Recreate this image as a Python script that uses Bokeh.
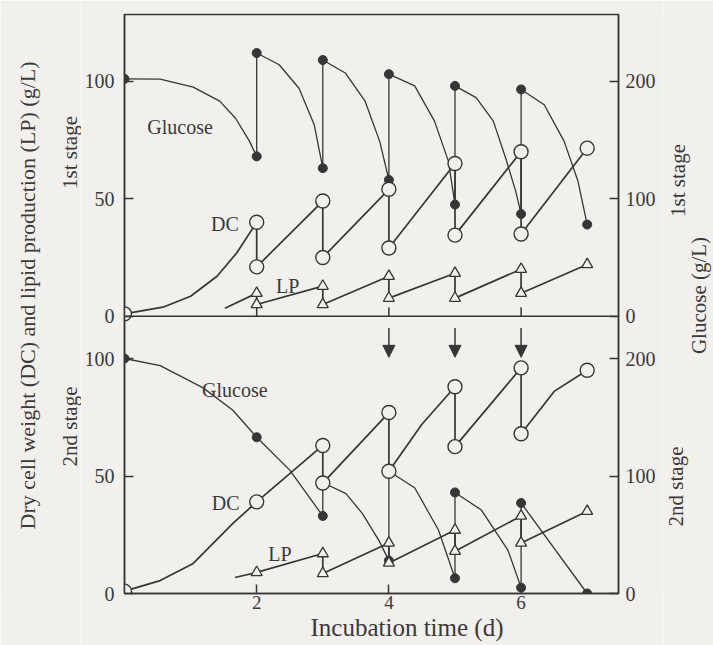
import math
from bokeh.plotting import figure
from bokeh.layouts import row
from bokeh.models import Range1d, LinearAxis, FixedTicker, Label, Arrow, NormalHead, Span, Title
from bokeh.embed import file_html
from bokeh.resources import INLINE

# ---------------- data ----------------
# 1st stage (top panel). Glucose on right axis, DC / LP on left axis.
glc1_days = [0, 2, 2, 3, 3, 4, 4, 5, 5, 6, 6, 7]
glc1_vals = [202, 136, 224, 126, 218, 116, 206, 95, 196, 87, 193, 78]
glc1_curve_days = [0, 0.54, 1.04, 1.44, 1.68, 1.89, 2, 2, 2.34, 2.64, 2.87, 3, 3, 3.34, 3.64, 3.86, 4,
                   4, 4.39, 4.69, 4.9, 5, 5, 5.32, 5.58, 5.77, 5.92, 6, 6, 6.35, 6.65, 6.86, 7]
glc1_curve_vals = [202, 201.7, 195, 183, 168.5, 149, 136, 224, 214, 194, 163, 126, 218, 207, 183, 149, 116,
                   206, 196, 166, 132, 95, 196, 186, 166, 134, 106, 87, 193, 180, 149, 115, 78]

dc1_days = [0, 2, 2, 3, 3, 4, 4, 5, 5, 6, 6, 7]
dc1_vals = [1, 40, 21, 49, 25, 54, 29, 65, 34.5, 70, 35, 71.5]
dc1_curve_days = [0, 0.6, 1.0, 1.4, 1.7, 2, 2, 3, 3, 4, 4, 5, 5, 6, 6, 7]
dc1_curve_vals = [1, 4, 8.5, 17, 27, 40, 21, 49, 25, 54, 29, 65, 34.5, 70, 35, 71.5]

lp1_days = [2, 2, 3, 3, 4, 4, 5, 5, 6, 6, 7]
lp1_vals = [9.8, 5, 12.8, 5, 17, 7.7, 18.3, 7.7, 20, 9.8, 22]
lp1_curve_days = [1.52, 2, 2, 3, 3, 4, 4, 5, 5, 6, 6, 7]
lp1_curve_vals = [3.4, 9.8, 5, 12.8, 5, 17, 7.7, 18.3, 7.7, 20, 9.8, 22]

# 2nd stage (bottom panel)
glc2_days = [0, 2, 3, 3, 4, 4, 5, 5, 6, 6, 7]
glc2_vals = [200, 133, 66, 94.5, 28, 104, 13, 86, 5, 77, 0]
glc2_curve_days = [0, 0.54, 1.19, 1.64, 2, 2.5, 3, 3, 3.35, 3.6, 3.85, 4, 4, 4.39, 4.75, 5,
                   5, 5.4, 5.8, 6, 6, 7]
glc2_curve_vals = [200, 194, 175, 156, 133, 105, 66, 94.5, 85, 68, 45, 28, 104, 90, 54, 13,
                   86, 71, 37, 5, 77, 0]

dc2_days = [0, 2, 3, 3, 4, 4, 5, 5, 6, 6, 7]
dc2_vals = [1, 39, 63, 47, 77, 52, 88, 62.5, 96, 68, 95]
dc2_curve_days = [0, 0.54, 1.04, 1.64, 2, 3, 3, 4, 4, 4.5, 5, 5, 6, 6, 6.5, 7]
dc2_curve_vals = [1, 5.5, 12.8, 29.8, 39, 63, 47, 77, 52, 72, 88, 62.5, 96, 68, 86, 95]

lp2_days = [2, 3, 3, 4, 4, 5, 5, 6, 6, 7]
lp2_vals = [9, 17, 8.5, 21.5, 13, 27, 18, 33, 21.5, 35]
lp2_curve_days = [1.67, 2, 3, 3, 4, 4, 5, 5, 6, 6, 7]
lp2_curve_vals = [6.8, 9, 17, 8.5, 21.5, 13, 27, 18, 33, 21.5, 35]

arrow_days = [4, 5, 6]
x_ticks = [2, 4, 6]
left_ticks = [0, 50, 100]
right_ticks = [0, 100, 200]

# ---------------- styling / geometry ----------------
INK = "#363636"
TXT = "#3a3a3a"
BG = "#f1f0ec"
FONT = "Liberation Serif"

H = 645
PX_PER_UNIT = 2.35        # left-axis pixels per g/L (right axis has half of that)
TOP_B, BOT_B = 14, 52
FRAME_H = H - TOP_B - BOT_B
FRAME_W = 497
PX_PER_DAY = 66.5
BOT_SPAN = 118            # height of lower panel in left-axis units
TICK_PX = 9
LEFT_W, MAIN_B_L, MAIN_B_R, RIGHT_W = 81, 40, 44, 51
MAIN_W = MAIN_B_L + FRAME_W + MAIN_B_R

top_max = FRAME_H / PX_PER_UNIT - BOT_SPAN

p = figure(width=MAIN_W, height=H,
           x_range=Range1d(0, FRAME_W / PX_PER_DAY),
           y_range=Range1d(-BOT_SPAN, top_max),
           output_backend="svg", toolbar_location=None,
           min_border_left=MAIN_B_L, min_border_right=MAIN_B_R,
           min_border_top=TOP_B, min_border_bottom=BOT_B,
           background_fill_color=BG, border_fill_color=BG,
           outline_line_color=INK, outline_line_width=1.5)
p.extra_y_ranges = {
    "bl": Range1d(0, FRAME_H / PX_PER_UNIT),
    "tr": Range1d(-2 * BOT_SPAN, 2 * top_max),
    "br": Range1d(0, 2 * FRAME_H / PX_PER_UNIT),
}
p.grid.visible = False


def style_axis(ax, standoff, size="20px"):
    ax.axis_line_color = INK
    ax.axis_line_width = 1.5
    ax.major_tick_line_color = INK
    ax.major_tick_line_width = 1.5
    ax.major_tick_in = TICK_PX
    ax.major_tick_out = 0
    ax.minor_tick_line_color = None
    ax.major_label_text_font = FONT
    ax.major_label_text_font_size = size
    ax.major_label_text_color = TXT
    ax.major_label_standoff = standoff


# left axis: both panels on one axis
ly = p.yaxis[0]
lticks = [t - BOT_SPAN for t in left_ticks] + list(left_ticks)
ly.ticker = FixedTicker(ticks=lticks)
ly.major_label_overrides = {t: str(v) for t, v in zip(lticks, left_ticks + left_ticks)}
style_axis(ly, 10)

# right axis
rticks = [t - 2 * BOT_SPAN for t in right_ticks] + list(right_ticks)
ry = LinearAxis(y_range_name="tr", ticker=FixedTicker(ticks=rticks))
ry.major_label_overrides = {t: str(v) for t, v in zip(rticks, right_ticks + right_ticks)}
style_axis(ry, 7)
p.add_layout(ry, "right")

# x axis
xa = p.xaxis[0]
xa.ticker = FixedTicker(ticks=x_ticks)
style_axis(xa, 2, "19px")
p.add_layout(Title(text="Incubation time (d)", align="left", offset=186, standoff=0,
                   text_font=FONT, text_font_size="25px", text_font_style="normal",
                   text_color=TXT), "below")

# panel divider, with the upper panel's inward x ticks
p.add_layout(Span(location=0, dimension="width", line_color=INK, line_width=1.5))
p.segment(x0=x_ticks, y0=[0] * len(x_ticks), x1=x_ticks,
          y1=[TICK_PX / PX_PER_UNIT] * len(x_ticks), line_color=INK, line_width=1.5)

# ---------------- curves ----------------
p.line(glc1_curve_days, glc1_curve_vals, y_range_name="tr", line_color=INK, line_width=1.3)
p.line(glc2_curve_days, glc2_curve_vals, y_range_name="br", line_color=INK, line_width=1.3)
p.line(dc1_curve_days, dc1_curve_vals, line_color=INK, line_width=1.7)
p.line(lp1_curve_days, lp1_curve_vals, line_color=INK, line_width=1.7)
p.line(dc2_curve_days, dc2_curve_vals, y_range_name="bl", line_color=INK, line_width=1.7)
p.line(lp2_curve_days, lp2_curve_vals, y_range_name="bl", line_color=INK, line_width=1.7)

# markers
p.scatter(glc1_days, glc1_vals, y_range_name="tr", marker="circle", size=9,
          fill_color=INK, line_color=INK)
p.scatter(glc2_days, glc2_vals, y_range_name="br", marker="circle", size=9,
          fill_color=INK, line_color=INK)
p.scatter(lp1_days, lp1_vals, marker="triangle", size=11,
          fill_color=BG, line_color=INK, line_width=1.3)
p.scatter(lp2_days, lp2_vals, y_range_name="bl", marker="triangle", size=11,
          fill_color=BG, line_color=INK, line_width=1.3)
p.scatter(dc1_days, dc1_vals, marker="circle", size=14,
          fill_color=BG, line_color=INK, line_width=1.4)
p.scatter(dc2_days, dc2_vals, y_range_name="bl", marker="circle", size=14,
          fill_color=BG, line_color=INK, line_width=1.4)

# feeding arrows in lower panel
for d in arrow_days:
    p.add_layout(Arrow(end=NormalHead(size=12, fill_color=INK, line_color=INK, line_width=1),
                       x_start=d, y_start=113, x_end=d, y_end=100.5,
                       y_range_name="bl", line_color=INK, line_width=1.5))


def lab(fig, text, x, y, size, angle=0.0, rng="default"):
    fig.add_layout(Label(x=x, y=y, text=text, y_range_name=rng, angle=angle,
                         text_font=FONT, text_font_size=size, text_color=TXT,
                         text_align="center", text_baseline="middle"))


lab(p, "Glucose", 0.84, 80.4, "20px")
lab(p, "DC", 1.52, 39.1, "20px")
lab(p, "LP", 2.47, 12.8, "20px")
lab(p, "Glucose", 1.67, 86.8, "20px", rng="bl")
lab(p, "DC", 1.53, 38.3, "20px", rng="bl")
lab(p, "LP", 2.35, 17.0, "20px", rng="bl")


# ---------------- side text strips (page-pixel coordinates) ----------------
# In a row, Bokeh aligns the strips' frames with the main frame (same top/bottom
# borders), so their y range covers only the frame's page rows.
def strip(width, x0):
    f = figure(width=width, height=H, x_range=Range1d(x0, x0 + width),
               y_range=Range1d(H - BOT_B, TOP_B), output_backend="svg", toolbar_location=None,
               x_axis_location=None, y_axis_location=None,
               min_border=0, min_border_left=0, min_border_right=0,
               min_border_top=TOP_B, min_border_bottom=BOT_B,
               background_fill_color=BG, border_fill_color=BG, outline_line_color=None)
    f.grid.visible = False
    return f


left = strip(LEFT_W, 0)
right = strip(RIGHT_W, LEFT_W + MAIN_W)

lab(left, "Dry cell weight (DC) and lipid production (LP) (g/L)", 27, 295, "22px", angle=math.pi / 2)
lab(left, "1st stage", 69, 152, "21px", angle=math.pi / 2)
lab(left, "2nd stage", 69, 426, "21px", angle=math.pi / 2)
lab(right, "1st stage", 677, 180, "21px", angle=math.pi / 2)
lab(right, "2nd stage", 675, 486, "21px", angle=math.pi / 2)
lab(right, "Glucose (g/L)", 698, 295, "21px", angle=math.pi / 2)

layout = row(left, p, right)
open("out.html", "w").write(file_html(layout, INLINE))
